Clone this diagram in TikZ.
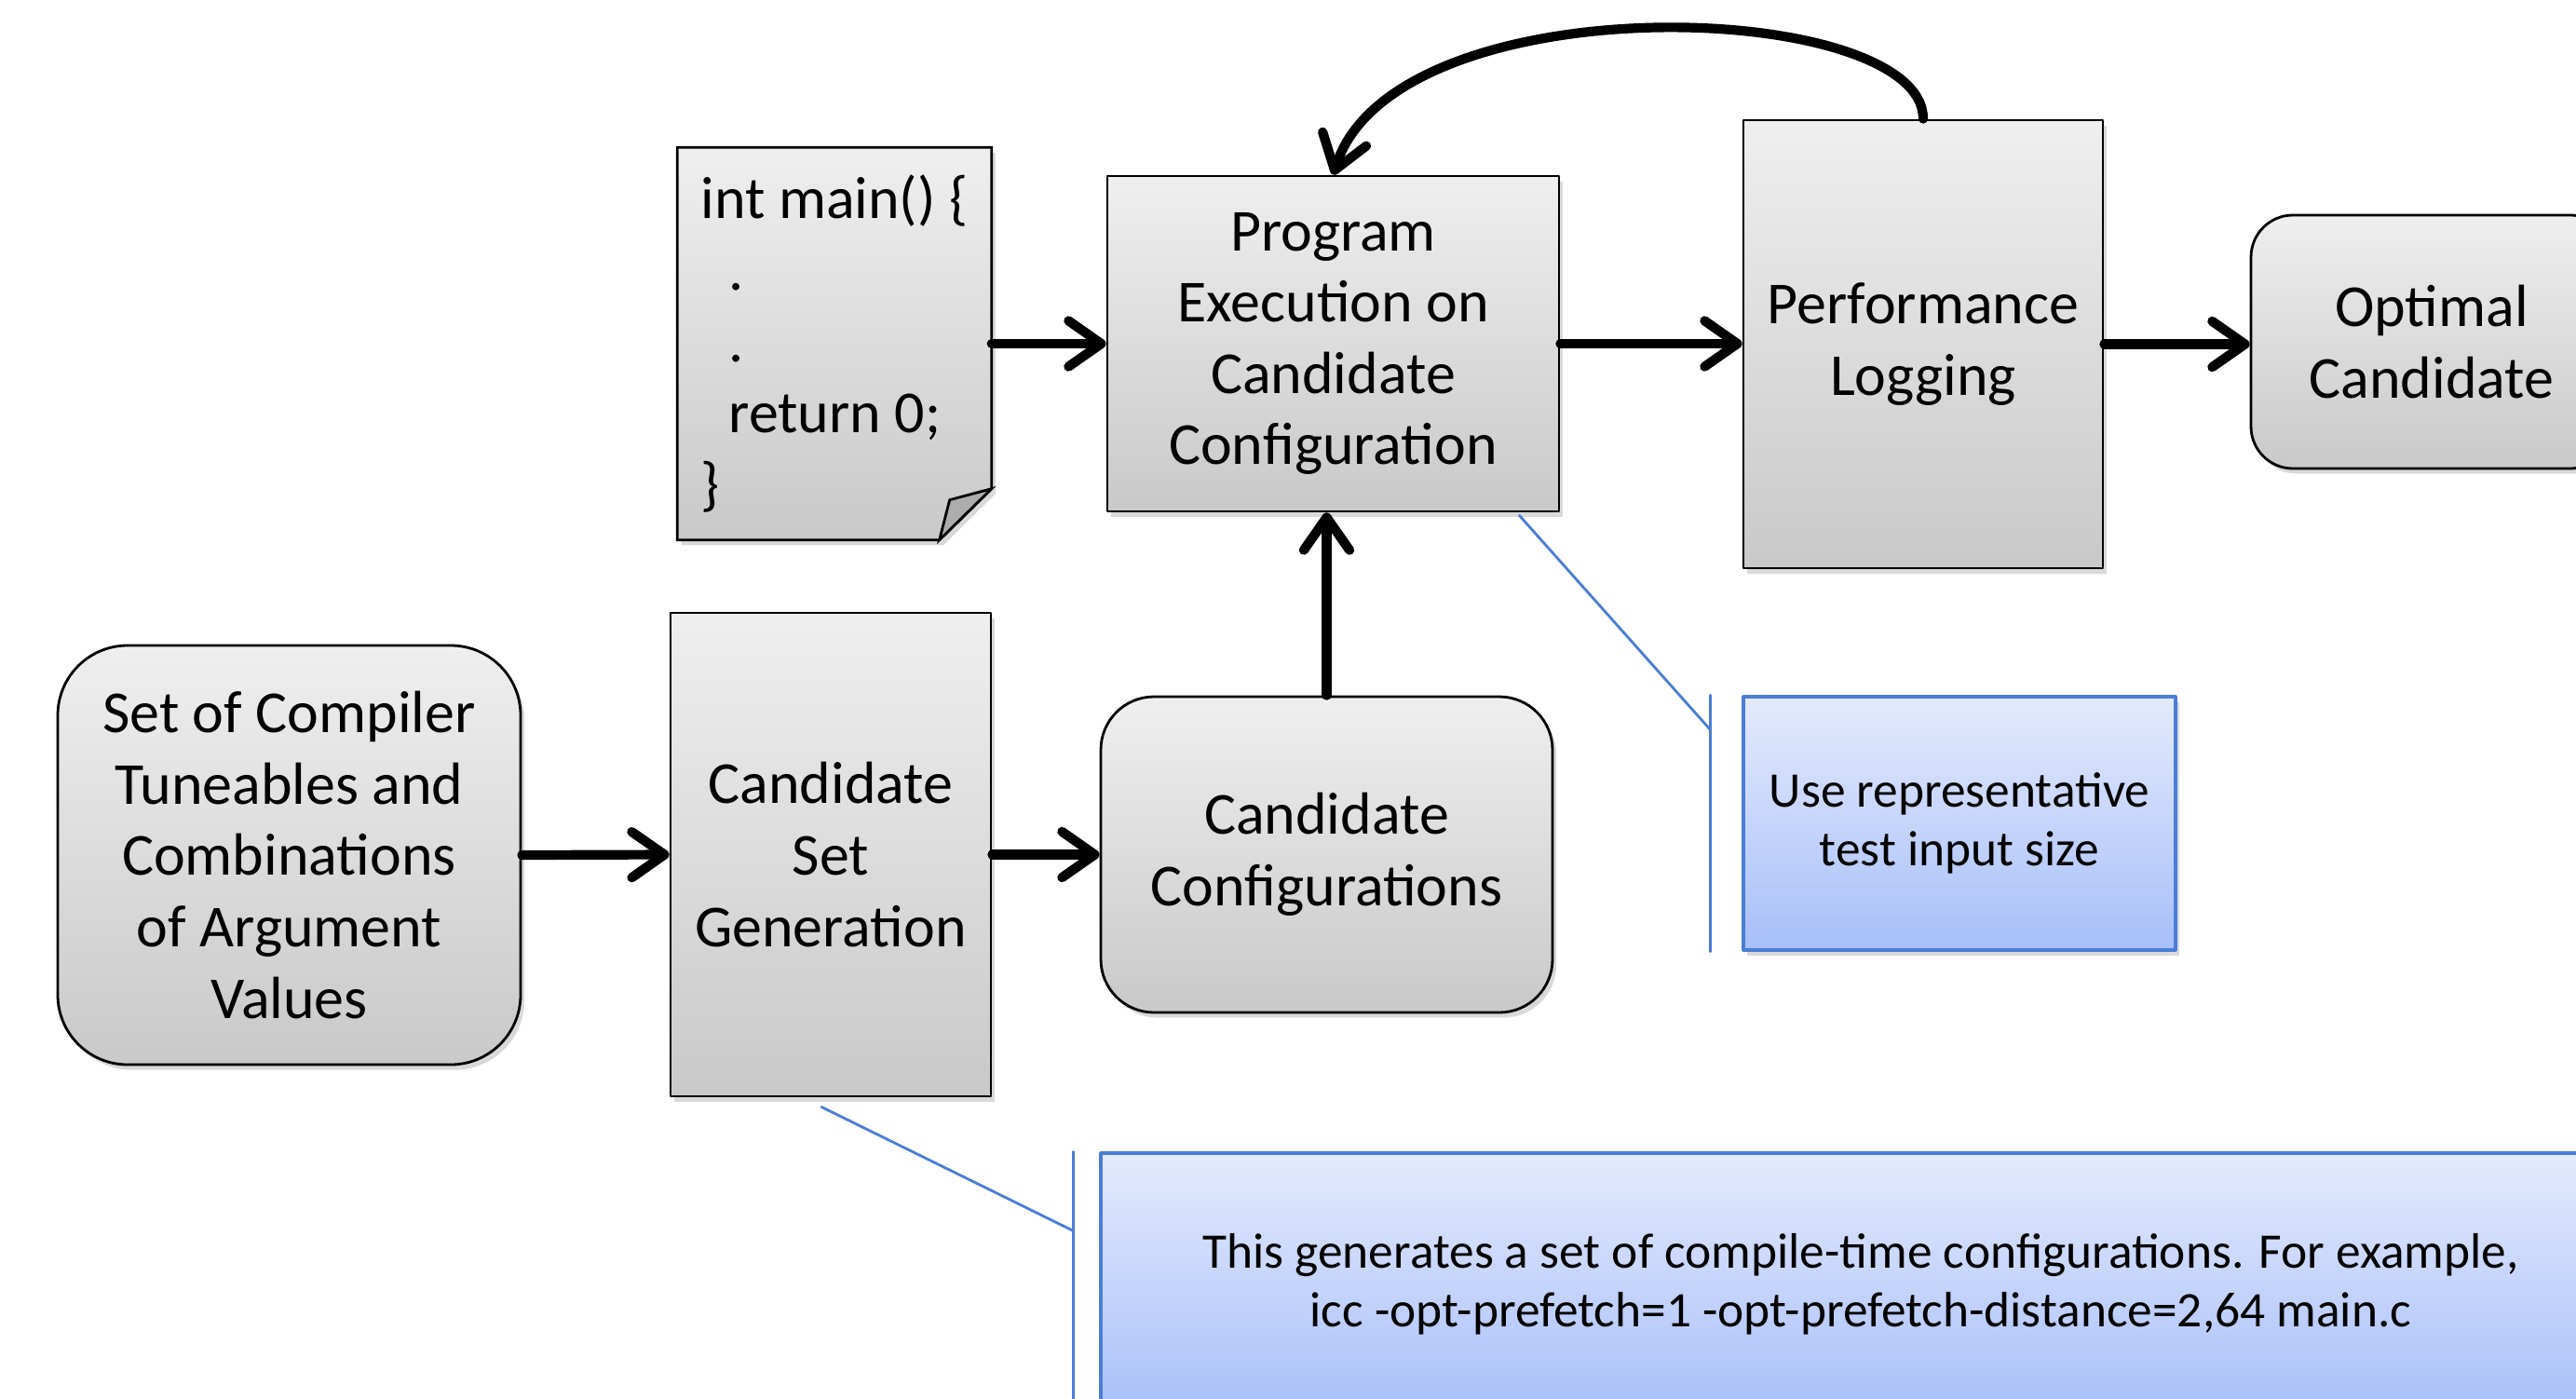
\documentclass[tikz,border=0pt]{standalone}
\usepackage{fontspec}
\setmainfont{Carlito}
\usetikzlibrary{arrows.meta,calc,shadows,backgrounds}
\definecolor{boxtop}{HTML}{EFEFEF}
\definecolor{boxbot}{HTML}{C9C9C9}
\definecolor{notetop}{HTML}{E4EAFC}
\definecolor{notebot}{HTML}{A7BFF9}
\definecolor{noteline}{HTML}{4A7DD8}
\begin{document}
\begin{tikzpicture}[>={Straight Barb[length=10pt,width=14pt,round]},line join=round,line cap=round,
	shade/.style={drop shadow={shadow xshift=1.2pt,shadow yshift=-1.6pt,opacity=.3}},
	box/.style={draw,line width=.8pt,top color=boxtop,bottom color=boxbot,align=center,inner sep=0pt,
		font=\fontsize{18.2}{21.8}\selectfont,shade},
	rbox/.style={box,rounded corners=#1},
	note/.style={draw=noteline,line width=.9pt,top color=notetop,bottom color=notebot,align=center,
		inner sep=0pt,font=\fontsize{15.2}{18}\selectfont,shade},
	flow/.style={->,line width=2.9pt},
	link/.style={draw=noteline,line width=.8pt}]
	\clip (0,0) rectangle (27.66,-15.01);
	
	\node[rbox=.75cm,minimum width=4.97cm,minimum height=4.5cm] (setc) at (3.105,-9.18)
		{Set of Compiler\\Tuneables and\\Combinations\\of Argument\\Values};
	\node[box,minimum width=3.44cm,minimum height=5.19cm] (gen) at (8.92,-9.175)
		{Candidate\\Set\\Generation};
	\node[rbox=.57cm,minimum width=4.85cm,minimum height=3.39cm] (cand) at (14.245,-9.175)
		{Candidate\\Configurations};
	\node[box,minimum width=4.85cm,minimum height=3.6cm] (prog) at (14.315,-3.69)
		{Program\\Execution on\\Candidate\\Configuration};
	\node[box,minimum width=3.86cm,minimum height=4.81cm] (perf) at (20.65,-3.695)
		{Performance\\Logging};
	\node[rbox=.45cm,minimum width=3.88cm,minimum height=2.72cm] (opt) at (26.11,-3.67)
		{Optimal\\Candidate};
	\node[align=left,font=\fontsize{18.2}{21.8}\selectfont,minimum width=3.36cm,minimum height=4.2cm,
		inner sep=0pt] (code) at (8.96,-3.69)
		{int main() \{\\\hspace*{.3cm}.\\\hspace*{.3cm}.\\\hspace*{.3cm}return 0;\\\}};
	\begin{scope}[on background layer]
		\draw[line width=.8pt,top color=boxtop,bottom color=boxbot,shade] (code.north west)--(code.north east)
			--($(code.south east)+(0,.55)$)--($(code.south east)+(-.56,0)$)--(code.south west)--cycle;
		\draw[line width=.8pt,fill=black!32] ($(code.south east)+(0,.55)$)--($(code.south east)+(-.45,.43)$)
			--($(code.south east)+(-.56,0)$)--cycle;
	\end{scope}
	
	\node[note,minimum width=4.64cm,minimum height=2.72cm] (note1) at (21.04,-8.84)
		{Use representative\\test input size};
	\node[note,minimum width=16.32cm,minimum height=2.82cm] (note2) at (19.98,-13.79)
		{This generates a set of compile-time configurations. For example,\\icc -opt-prefetch=1 -opt-prefetch-distance=2,64 main.c};
	
	\draw[flow] (setc.east)--(gen.west);
	\draw[flow] (gen.east)--(cand.west);
	\draw[flow] (cand.north)--(cand.north|-prog.south);
	\draw[flow] (code.east)--(prog.west);
	\draw[flow] (prog.east)--(prog.east-|perf.west);
	\draw[flow] (perf.east)--(perf.east-|opt.west);
	\draw[flow] (perf.north) .. controls +(0,1.29) and +(.66,2.09) .. (prog.north);
	
	\coordinate (bar1) at ($(note1.west)+(-.34,0)$);
	\coordinate (tail1) at ($(prog.south east)+(-.44,-.03)$);
	\draw[link] (bar1|-note1.north)--(bar1|-note1.south);
	\draw[link] (tail1)--($(bar1|-note1.north)+(0,-.37)$);
	\coordinate (bar2) at ($(note2.west)+(-.28,0)$);
	\coordinate (tail2) at ($(gen.south)+(-.1,-.1)$);
	\draw[link] (bar2|-note2.north)--(bar2|-note2.south);
	\draw[link] (tail2)--($(bar2|-note2.north)+(0,-.85)$);
\end{tikzpicture}
\end{document}
